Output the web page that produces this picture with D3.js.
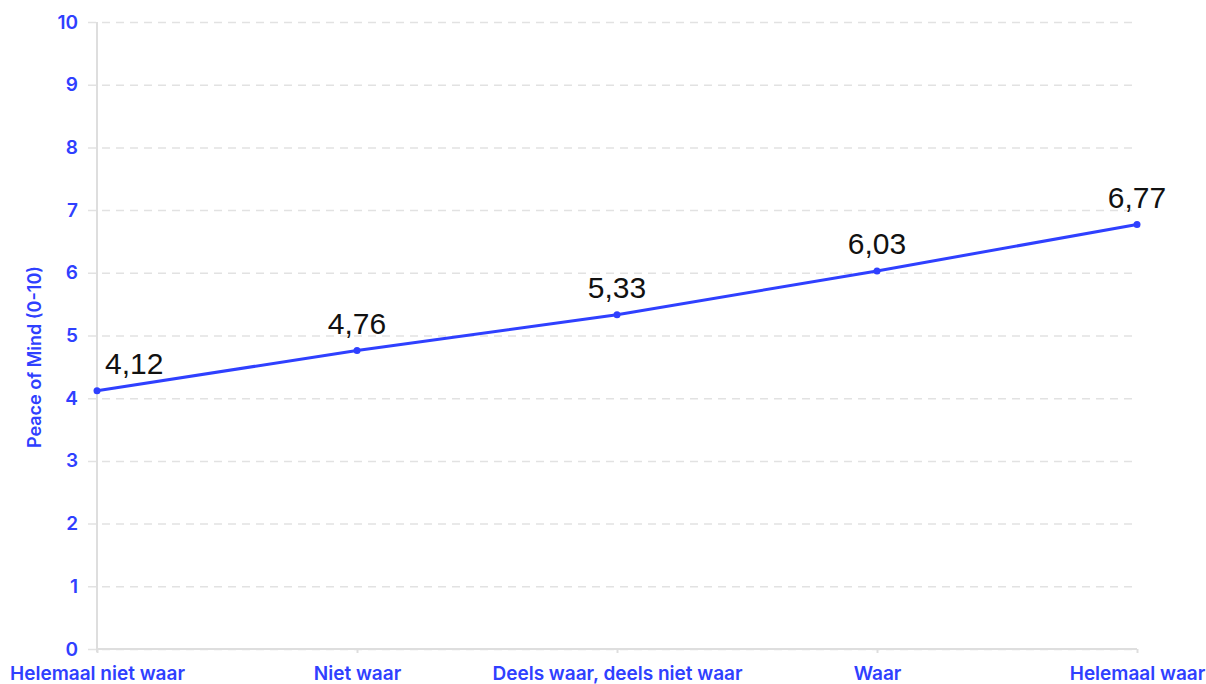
<!DOCTYPE html>
<html lang="nl">
<head>
  <meta charset="UTF-8">
  <title>Peace of Mind</title>
  <script src="https://d3js.org/d3.v7.min.js"></script>
  <style>
    body {
      margin: 0;
      padding: 0;
      background: #fff;
      font-family: "Liberation Sans", Arial, sans-serif;
    }
    .grid line {
      stroke: #e2e2e2;
      stroke-width: 1.5;
      stroke-dasharray: 8 6;
    }
    .grid .domain { display: none; }
    .axis text {
      fill: #2f40ff;
      font-family: Inter, "Liberation Sans", sans-serif;
      font-size: 19px;
      font-weight: 600;
    }
    .axis .domain, .axis line {
      stroke: #dedede;
      stroke-width: 2;
    }
  </style>
</head>
<body>
  <div id="chart"></div>
  <script>
    const categories = ["Helemaal niet waar", "Niet waar", "Deels waar, deels niet waar", "Waar", "Helemaal waar"];
    const values = [4.12, 4.76, 5.33, 6.03, 6.77];
    const yTicks = [0, 1, 2, 3, 4, 5, 6, 7, 8, 9, 10];

    const width = 1206, height = 684;
    const margin = { top: 22, right: 69, bottom: 35, left: 97 };
    const blue = "#2f40ff";

    const svg = d3.select("#chart").append("svg")
      .attr("width", width)
      .attr("height", height);

    const x = d3.scalePoint()
      .domain(categories)
      .range([margin.left, width - margin.right]);

    const y = d3.scaleLinear()
      .domain([0, 10])
      .range([height - margin.bottom, margin.top]);

    // dashed gridlines
    svg.append("g")
      .attr("class", "grid")
      .attr("transform", `translate(${margin.left - 9},0)`)
      .call(d3.axisRight(y).tickValues(yTicks).tickSize(width - margin.right - margin.left + 9).tickFormat(""));

    // y axis
    const yAxis = svg.append("g")
      .attr("class", "axis")
      .attr("transform", `translate(${margin.left},0)`)
      .call(d3.axisLeft(y).tickValues(yTicks).tickSize(0).tickPadding(19));
    yAxis.select(".domain").attr("d", `M0,${margin.top}V${height - margin.bottom + 3}`);

    // x axis
    const xAxis = svg.append("g")
      .attr("class", "axis")
      .attr("transform", `translate(0,${height - margin.bottom})`)
      .call(d3.axisBottom(x).tickSize(4).tickPadding(14));
    xAxis.select(".domain").attr("d", `M${margin.left},0H${width - margin.right}`);
    xAxis.selectAll("line").attr("stroke-width", 1);

    // y axis title
    svg.append("text")
      .attr("transform", `translate(41,357) rotate(-90)`)
      .attr("text-anchor", "middle")
      .attr("fill", blue)
      .attr("font-family", "Inter, sans-serif")
      .attr("font-size", 18)
      .attr("font-weight", 600)
      .text("Peace of Mind (0-10)");

    // line
    const line = d3.line()
      .x((d, i) => x(categories[i]))
      .y(d => y(d));

    svg.append("path")
      .datum(values)
      .attr("fill", "none")
      .attr("stroke", blue)
      .attr("stroke-width", 3)
      .attr("d", line);

    svg.selectAll(".dot")
      .data(values)
      .enter().append("circle")
      .attr("class", "dot")
      .attr("cx", (d, i) => x(categories[i]))
      .attr("cy", d => y(d))
      .attr("r", 3.5)
      .attr("fill", blue);

    // value labels
    svg.selectAll(".val")
      .data(values)
      .enter().append("text")
      .attr("class", "val")
      .attr("x", (d, i) => x(categories[i]) + (i === 0 ? 8 : 0))
      .attr("y", d => y(d) - 17)
      .attr("text-anchor", (d, i) => i === 0 ? "start" : "middle")
      .attr("font-size", 30)
      .attr("fill", "#111")
      .text(d => d3.format(".2f")(d).replace(".", ","));
  </script>
</body>
</html>
